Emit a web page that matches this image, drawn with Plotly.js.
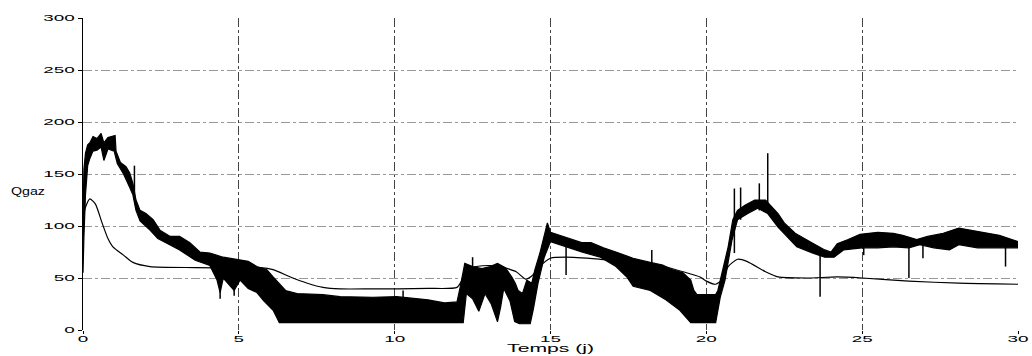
<!DOCTYPE html>
<html>
<head>
<meta charset="utf-8">
<script src="https://cdn.plot.ly/plotly-3.0.1.min.js"></script>
<style>
html,body{margin:0;padding:0;background:#fff;}
#chart{width:1032px;height:356px;}
</style>
</head>
<body>
<div id="chart"></div>
<script>
// Measured gas flow (noisy band): upper envelope
const measUpX = [0,0.03,0.08,0.15,0.22,0.32,0.45,0.58,0.67,0.8,1.03,1.06,1.2,1.38,1.5,1.6,1.7,1.83,2.02,2.25,2.47,2.8,3.1,3.43,3.75,4.07,4.5,5.13,5.3,5.58,5.9,6.1,6.3,6.5,6.87,7.7,8.25,9.3,10.07,11.07,11.6,12.0,12.1,12.25,12.5,12.8,13.06,13.3,13.55,13.76,13.87,13.96,14.1,14.24,14.4,14.5,14.66,14.8,14.9,15.0,15.3,15.6,16.0,16.3,16.7,17.1,17.65,18.2,18.6,18.9,19.25,19.5,19.6,19.7,20.0,20.3,20.37,20.5,20.7,20.85,21.0,21.24,21.55,21.9,22.1,22.3,22.5,22.85,23.2,23.5,23.8,24.0,24.2,24.55,24.93,25.5,26.0,26.3,26.75,27.1,27.6,28.1,28.45,29.0,29.4,30.0];
const measUp  = [110,155,170,178,180,186,184,189,180,185,187,172,161,157,151,141,125,115,112,106,96,90,90,84,75,74,70,67,66,61,58,51,45,38,35,34,32,31.5,32,29,26,27,41,64,61,59,61,64,60,51,45,38,35,48,45,58,74,90,103,94,91,88,84,84,79,75,69,65,62.5,58,55,48,38,34,34,34,38,55,80,106,115,120,125,125,118,112,103,93,87,82,77,75,83,87,92,94,93,91,87,90,93,98,96,93,91,85];
// Measured gas flow: lower envelope
const measLoX = [0,0.03,0.08,0.15,0.22,0.32,0.45,0.58,0.67,0.8,1.0,1.1,1.3,1.5,1.6,1.7,1.83,2.02,2.15,2.4,2.66,3.1,3.6,4.07,4.3,4.4,4.5,4.85,5.0,5.04,5.3,5.58,5.8,6.1,6.3,12.2,12.3,12.5,12.7,12.9,13.1,13.3,13.4,13.5,13.7,13.85,14.0,14.35,14.45,14.6,14.8,15.0,15.5,16.0,16.6,17.1,17.45,17.65,18.2,18.7,19.15,19.5,20.3,20.45,20.6,20.82,21.0,21.33,21.65,21.97,22.3,22.6,22.9,23.4,23.8,24.1,24.4,25.0,25.5,26.0,26.5,26.85,27.3,27.8,28.1,28.7,29.2,30.0];
const measLo  = [55,90,130,158,165,172,173,176,163,174,172,160,150,137,130,115,105,100,96,88,84,77,67,62,48,36,50,38,46,48,40,36,28,19,7,7,35,30,18,35,25,8,22,40,28,8,6,6,20,45,70,85,80,75,70,61,51,42,38,29,19,7,7,32,48,86,106,112,117,112,99,89,80,74,70,70,77,79,79,80,79,82,79,77,82,79,79,79];
// Isolated spikes in the measured signal
const spikeX  = [1.65,4.4,4.85,10.27,12.5,15.5,18.25,20.9,21.1,21.7,21.97,23.65,25.05,26.5,26.95,29.6];
const spikeLo = [125,30,33,30,55,53,62,74,106,115,115,32,72,50,69,61];
const spikeHi = [158,55,55,38,70,80,77,136,137,141,170,74,80,86,82,80];
// Model (smooth curve)
const modelX = [0,0.08,0.22,0.4,0.6,0.8,0.96,1.3,1.6,2.15,3.6,5.0,5.7,6.1,6.65,7.2,7.7,8.25,9.3,10.1,11.07,12.0,12.2,12.5,13.0,13.4,13.9,14.2,14.4,14.65,15.0,15.5,16.6,18.2,18.6,19.25,19.8,20.0,20.3,20.5,20.7,21.0,21.3,21.9,22.3,23.2,24.2,25.0,26.5,28.1,30.0];
const modelY = [108,118,126,121,104,88,80,72,65,61,60,59.5,60,58,51,45,41,39.5,39.5,39.5,40,41,50,60,62,61,56,49,52,61,69,70,68,64,61.5,56,51,47,44,48,61,68,66,56,51,50,51,50,47,45,44];
// Axis ticks
const xTicks = [0,5,10,15,20,25,30];
const yTicks = [0,50,100,150,200,250,300];

// band polygon built from the two envelopes
const bandX = measUpX.concat(measLoX.slice().reverse());
const bandY = measUp.concat(measLo.slice().reverse());
const sx = [], sy = [];
spikeX.forEach((x,i)=>{ sx.push(x,x,null); sy.push(spikeLo[i],spikeHi[i],null); });

const traces = [
  {x: bandX, y: bandY, type:'scatter', mode:'lines', fill:'toself', fillcolor:'#000',
   line:{color:'#000', width:1.2}, hoverinfo:'skip', showlegend:false},
  {x: sx, y: sy, type:'scatter', mode:'lines', line:{color:'#000', width:1.5},
   connectgaps:false, showlegend:false},
  {x: modelX, y: modelY, type:'scatter', mode:'lines', line:{color:'#000', width:1.2, shape:'spline', smoothing:0.6},
   showlegend:false}
];

const tickFont = {family:'"Liberation Sans", Arial, sans-serif', size:9, color:'#000'};
const titleFont = {family:'"Liberation Sans", Arial, sans-serif', size:10, color:'#000'};
const layout = {
  width:1032, height:356,
  margin:{l:83, r:14, t:18, b:26, pad:0},
  paper_bgcolor:'#fff', plot_bgcolor:'#fff',
  showlegend:false,
  xaxis:{range:[0,30], tickvals:xTicks, ticktext:xTicks.map(String), ticks:'outside', ticklen:3, tickcolor:'#000',
    ticklabelstandoff:-3,
    showline:false, zeroline:false, showgrid:true, gridcolor:'#444', griddash:'dashdot', gridwidth:1,
    tickfont:tickFont, fixedrange:true},
  yaxis:{range:[0,300], tickvals:yTicks, ticktext:yTicks.map(String), ticks:'outside', ticklen:4, tickcolor:'#000',
    ticklabelstandoff:1,
    showline:true, linecolor:'#000', linewidth:1.5, zeroline:false, showgrid:true, gridcolor:'#999', griddash:'dashdot', gridwidth:1,
    tickfont:tickFont, fixedrange:true},
  annotations:[
    {text:'Qgaz', xref:'paper', yref:'paper', x:-0.059, y:0.445, xanchor:'center', yanchor:'middle', showarrow:false, font:titleFont},
    {text:'Temps (j)', xref:'paper', yref:'paper', x:0.5, y:-0.058, xanchor:'center', yanchor:'middle', showarrow:false, font:titleFont}
  ]
};

function stretchTexts(gd){
  try {
    gd.querySelectorAll('.xtick text, .ytick text').forEach(t=>{
      const n = t.textContent.length;
      t.setAttribute('textLength', String(n*10.5));
      t.setAttribute('lengthAdjust','spacingAndGlyphs');
    });
    const targets = {'Qgaz':34, 'Temps (j)':87};
    gd.querySelectorAll('.annotation-text').forEach(t=>{
      const tw = targets[t.textContent];
      if (tw){ t.setAttribute('textLength', String(tw)); t.setAttribute('lengthAdjust','spacingAndGlyphs'); }
    });
  } catch(e) {}
}

Plotly.newPlot('chart', traces, layout, {staticPlot:true, displayModeBar:false}).then(gd=>{
  stretchTexts(gd);
  gd.on('plotly_afterplot', ()=>stretchTexts(gd));
});
</script>
</body>
</html>
